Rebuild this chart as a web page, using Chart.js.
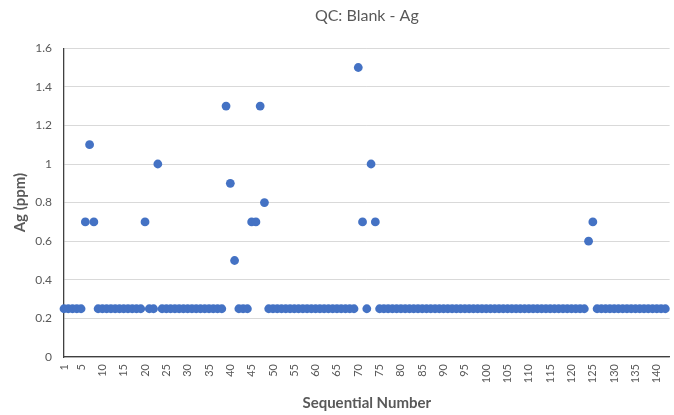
<!DOCTYPE html>
<html>
<head>
<meta charset="utf-8">
<script src="https://cdn.jsdelivr.net/npm/chart.js@4/dist/chart.umd.min.js"></script>
<style>
    html, body { margin: 0; padding: 0; background: #ffffff; }
    #wrap { width: 674px; height: 415px; }
</style>
</head>
<body>
<div id="wrap"><canvas id="qcChart"></canvas></div>
<script>
// Ag blank results, one value per sequential number (1, 2, 3 ...)
const agValues = [
    0.25, 0.25, 0.25, 0.25, 0.25, 0.7, 1.1, 0.7, 0.25, 0.25,
    0.25, 0.25, 0.25, 0.25, 0.25, 0.25, 0.25, 0.25, 0.25, 0.7,
    0.25, 0.25, 1.0, 0.25, 0.25, 0.25, 0.25, 0.25, 0.25, 0.25,
    0.25, 0.25, 0.25, 0.25, 0.25, 0.25, 0.25, 0.25, 1.3, 0.9,
    0.5, 0.25, 0.25, 0.25, 0.7, 0.7, 1.3, 0.8, 0.25, 0.25,
    0.25, 0.25, 0.25, 0.25, 0.25, 0.25, 0.25, 0.25, 0.25, 0.25,
    0.25, 0.25, 0.25, 0.25, 0.25, 0.25, 0.25, 0.25, 0.25, 1.5,
    0.7, 0.25, 1.0, 0.7, 0.25, 0.25, 0.25, 0.25, 0.25, 0.25,
    0.25, 0.25, 0.25, 0.25, 0.25, 0.25, 0.25, 0.25, 0.25, 0.25,
    0.25, 0.25, 0.25, 0.25, 0.25, 0.25, 0.25, 0.25, 0.25, 0.25,
    0.25, 0.25, 0.25, 0.25, 0.25, 0.25, 0.25, 0.25, 0.25, 0.25,
    0.25, 0.25, 0.25, 0.25, 0.25, 0.25, 0.25, 0.25, 0.25, 0.25,
    0.25, 0.25, 0.25, 0.6, 0.7, 0.25, 0.25, 0.25, 0.25, 0.25,
    0.25, 0.25, 0.25, 0.25, 0.25, 0.25, 0.25, 0.25, 0.25, 0.25,
    0.25, 0.25
];

const xTickLabels = [1, 5, 10, 15, 20, 25, 30, 35, 40, 45, 50, 55, 60, 65, 70,
    75, 80, 85, 90, 95, 100, 105, 110, 115, 120, 125, 130, 135, 140];
const yTickLabels = [0, 0.2, 0.4, 0.6, 0.8, 1, 1.2, 1.4, 1.6];

const points = agValues.map((v, i) => ({ x: i + 1, y: v }));

const textGrey = '#595959';
const fontFamily = 'Lato, Carlito, "Open Sans", sans-serif';

new Chart(document.getElementById('qcChart'), {
    type: 'scatter',
    data: {
        datasets: [{
            label: 'Ag',
            data: points,
            backgroundColor: '#4472C4',
            borderWidth: 0,
            pointRadius: 4.4,
            pointHoverRadius: 4.4,
            clip: false
        }]
    },
    options: {
        responsive: true,
        maintainAspectRatio: false,
        animation: false,
        layout: { padding: { top: 0, right: 1, bottom: 0, left: 0 } },
        plugins: {
            legend: { display: false },
            tooltip: { enabled: false },
            title: {
                display: true,
                text: 'QC: Blank - Ag',
                color: textGrey,
                fullSize: false,
                font: { family: fontFamily, size: 16, weight: 'normal' },
                padding: { top: 6, bottom: 23 }
            }
        },
        scales: {
            x: {
                type: 'linear',
                min: 1,
                max: 143,
                afterBuildTicks: (scale) => {
                    scale.ticks = xTickLabels.map(v => ({ value: v }));
                },
                afterFit: (scale) => {
                    scale.height = 58;
                    scale.paddingLeft = 0;
                    scale.paddingRight = 0;
                },
                grid: { display: false, drawTicks: false },
                border: { display: true, color: '#404040', width: 1.3 },
                ticks: {
                    color: textGrey,
                    font: { family: fontFamily, size: 11 },
                    minRotation: 90,
                    maxRotation: 90,
                    autoSkip: false,
                    padding: 7,
                    callback: (v) => String(v)
                },
                title: {
                    display: true,
                    text: 'Sequential Number',
                    color: textGrey,
                    font: { family: fontFamily, size: 15, weight: 'bold' },
                    padding: { top: 0, bottom: 3 }
                }
            },
            y: {
                min: 0,
                max: 1.6,
                afterBuildTicks: (scale) => {
                    scale.ticks = yTickLabels.map(v => ({ value: v }));
                },
                afterFit: (scale) => { scale.width = 64; },
                grid: { color: '#d9d9d9', lineWidth: 1, drawTicks: false },
                border: { display: true, color: '#404040', width: 1.3 },
                ticks: {
                    color: textGrey,
                    font: { family: fontFamily, size: 12 },
                    padding: 12,
                    callback: (v) => String(Number(v.toFixed(1)))
                },
                title: {
                    display: true,
                    text: 'Ag (ppm)',
                    color: textGrey,
                    font: { family: fontFamily, size: 15, weight: 'bold' },
                    padding: { top: 11, bottom: 0 }
                }
            }
        }
    }
});
</script>
</body>
</html>
